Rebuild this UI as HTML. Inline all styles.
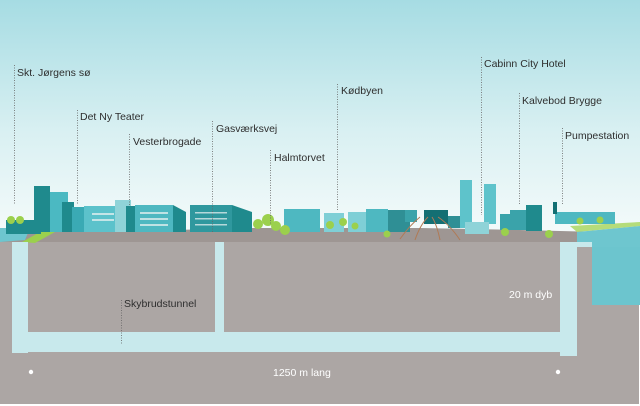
<!DOCTYPE html>
<html><head><meta charset="utf-8"><style>
body{margin:0;width:640px;height:406px;overflow:hidden;background:#fff}
svg{display:block}
text{font-family:"Liberation Sans",sans-serif;font-size:10.5px;fill:#2e2e2e}
</style></head><body>
<svg width="640" height="406" viewBox="0 0 640 406">
<defs><linearGradient id="sky" x1="0" y1="0" x2="0" y2="1">
<stop offset="0" stop-color="#a6dce3"/><stop offset="0.55" stop-color="#d9f0f2"/><stop offset="1" stop-color="#f6fbfb"/></linearGradient></defs>
<rect width="640" height="240" fill="url(#sky)"/>
<!-- ground -->
<rect x="0" y="232" width="639" height="172" fill="#aca6a4"/>
<polygon points="0,240 30,232 100,232 250,228 300,228 420,228 520,230 600,232 600,242 0,242" fill="#9e9693"/>
<!-- water right -->
<polygon points="570,226 640,222 640,226 577,232" fill="#b5dc7a"/>
<polygon points="577,232 640,226 640,304 592,304 592,247 577,247" fill="#6ec6cf"/>
<rect x="592" y="247" width="48" height="58" fill="#6cc5ce"/>
<polygon points="0,228 30,228 25,240 0,242" fill="#6ec6cf"/>
<polygon points="22,242 40,232 55,232 35,243" fill="#9bd04d"/>
<!-- tunnel -->
<g fill="#c8e9ec">
<rect x="12" y="242" width="16" height="111"/>
<rect x="12" y="332" width="565" height="20"/>
<rect x="215" y="242" width="9" height="92"/>
<rect x="560" y="242" width="17" height="114"/>
<rect x="577" y="242" width="15" height="5"/>
</g>
<!-- buildings -->
<g fill="#1f8a8d">
<rect x="6" y="220" width="35" height="14"/>
<rect x="34" y="186" width="16" height="46"/>
<rect x="50" y="192" width="18" height="40" fill="#4bb9c2"/>
<rect x="62" y="202" width="12" height="30"/>
<rect x="72" y="207" width="14" height="25" fill="#3aaab4"/>
<rect x="84" y="206" width="38" height="26" fill="#5cc2cb"/>
<rect x="115" y="200" width="16" height="32" fill="#8fd3d8"/>
<rect x="126" y="206" width="9" height="26"/>
<rect x="135" y="205" width="38" height="27" fill="#4eb8c1"/>
<polygon points="173,205 186,212 186,232 173,232"/>
<rect x="190" y="205" width="42" height="27" fill="#2f989e"/>
<polygon points="232,205 252,212 252,232 232,232"/>
<rect x="284" y="209" width="36" height="23" fill="#4eb8c1"/>
<rect x="324" y="213" width="20" height="19" fill="#7fcfd6"/>
<rect x="348" y="212" width="20" height="20" fill="#7fcfd6"/>
<rect x="366" y="209" width="22" height="23" fill="#4eb8c1"/>
<rect x="388" y="210" width="22" height="22" fill="#2f8f95"/>
<rect x="405" y="210" width="12" height="12" fill="#3aa3aa"/>
<rect x="424" y="210" width="24" height="14" fill="#136f73"/>
<rect x="448" y="216" width="12" height="12" fill="#2f8f95"/>
<rect x="460" y="180" width="12" height="48" fill="#5ec3cb"/>
<rect x="484" y="184" width="12" height="40" fill="#5ec3cb"/>
<rect x="465" y="222" width="24" height="12" fill="#8fd3d8"/>
<rect x="500" y="214" width="10" height="16" fill="#3aa3aa"/>
<rect x="510" y="210" width="16" height="20" fill="#3aa3aa"/>
<rect x="526" y="205" width="16" height="26" fill="#1f8a8d"/>
<rect x="555" y="212" width="60" height="12" fill="#4eb8c1"/>
<rect x="553" y="202" width="4" height="12" fill="#136f73"/>
</g>
<g fill="#f0f4f4" opacity=".7">
<rect x="92" y="213" width="22" height="2"/><rect x="92" y="219" width="22" height="2"/>
<rect x="140" y="212" width="28" height="2"/><rect x="140" y="218" width="28" height="2"/><rect x="140" y="224" width="28" height="2"/>
<rect x="195" y="212" width="32" height="1.5"/><rect x="195" y="218" width="32" height="1.5"/><rect x="195" y="224" width="32" height="1.5"/>
</g>
<!-- rails -->
<g stroke="#b07a55" fill="none" stroke-width="1">
<path d="M400 239 Q410 225 420 217"/><path d="M415 240 Q420 225 428 217"/><path d="M440 240 Q437 225 432 217"/><path d="M460 240 Q450 225 438 217"/>
</g>
<!-- trees -->
<g fill="#9bd04d">
<circle cx="11" cy="220" r="4"/><circle cx="20" cy="220" r="4"/>
<circle cx="258" cy="224" r="5"/><circle cx="268" cy="220" r="6"/><circle cx="276" cy="226" r="5"/><circle cx="285" cy="230" r="5"/>
<circle cx="330" cy="225" r="4"/><circle cx="343" cy="222" r="4"/><circle cx="355" cy="226" r="3.5"/><circle cx="387" cy="234" r="3.5"/>
<circle cx="505" cy="232" r="4"/><circle cx="549" cy="234" r="4"/><circle cx="580" cy="221" r="3.5"/><circle cx="600" cy="220" r="3.5"/>
</g>
<!-- labels & dotted lines -->
<g stroke="#666" stroke-width="0.8" stroke-dasharray="1,1.5">
<line x1="14.5" y1="65" x2="14.5" y2="205"/>
<line x1="77.5" y1="110" x2="77.5" y2="205"/>
<line x1="129.5" y1="134" x2="129.5" y2="205"/>
<line x1="212.5" y1="121" x2="212.5" y2="232"/>
<line x1="270.5" y1="150" x2="270.5" y2="225"/>
<line x1="337.5" y1="84" x2="337.5" y2="210"/>
<line x1="481.5" y1="57" x2="481.5" y2="215"/>
<line x1="519.5" y1="93" x2="519.5" y2="205"/>
<line x1="562.5" y1="128" x2="562.5" y2="205"/>
<line x1="121.5" y1="300" x2="121.5" y2="345"/>
</g>
<text x="17" y="76">Skt. Jørgens sø</text>
<text x="80" y="120">Det Ny Teater</text>
<text x="133" y="145">Vesterbrogade</text>
<text x="216" y="132">Gasværksvej</text>
<text x="274" y="161">Halmtorvet</text>
<text x="341" y="94">Kødbyen</text>
<text x="484" y="67">Cabinn City Hotel</text>
<text x="522" y="104">Kalvebod Brygge</text>
<text x="565" y="139">Pumpestation</text>
<text x="124" y="307">Skybrudstunnel</text>
<text x="509" y="298" style="fill:#fff">20 m dyb</text>
<text x="273" y="376" style="fill:#fff">1250 m lang</text>
<circle cx="31" cy="372" r="2.2" fill="#fff"/>
<circle cx="558" cy="372" r="2.2" fill="#fff"/>
</svg>
</body></html>
